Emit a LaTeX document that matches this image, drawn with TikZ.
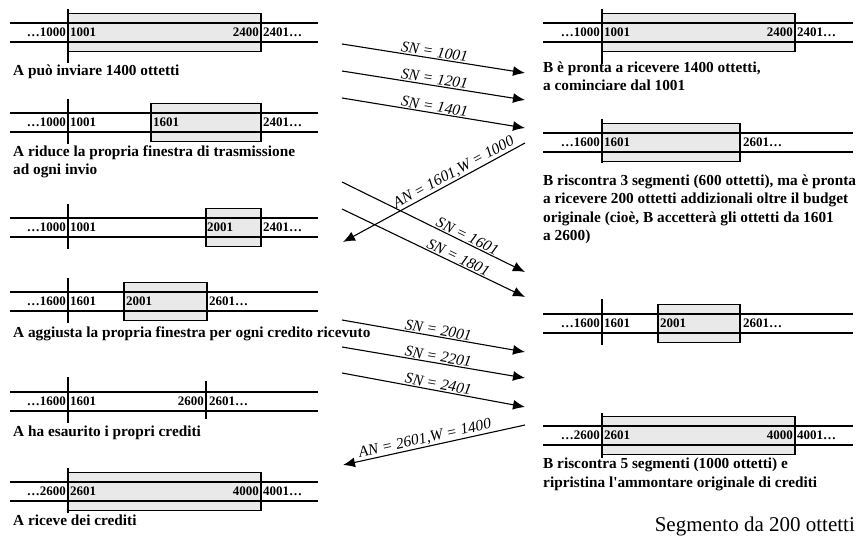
\documentclass[tikz,border=0pt]{standalone}
\usepackage{fontspec}
\setmainfont{Liberation Serif}
\usetikzlibrary{arrows.meta,positioning}
\tikzset{%
	seq/.style  = {line width=2.6pt},
	bar/.style  = {line width=2.6pt},
	cut/.style  = {line width=1.2pt},
	win/.style  = {draw, fill=gray!17, line width=1.3pt},
	num/.style  = {inner sep=0pt, font=\bfseries\fontsize{13}{13}\selectfont},
	note/.style = {inner sep=0pt, anchor=base west, align=left, font=\bfseries\fontsize{15.3}{18.5}\selectfont},
	msg/.style  = {line width=1.1pt, -{Latex[length=12pt,width=10pt]}},
	ack/.style  = {line width=1.1pt, {Latex[length=12pt,width=10pt]}-},
	lbl/.style  = {sloped, above, inner sep=1pt, font=\itshape\fontsize{15.5}{15.5}\selectfont},
}
\begin{document}
\begin{tikzpicture}[x=1pt,y=-1pt]
	\useasboundingbox (0,0) rectangle (859,537);
	
	% lato A
	\begin{scope}[shift={(0,23)}]
	\draw[win] (68,-9.5) rectangle (261,28.5);
	\draw[seq] (10,0) -- (318,0) (10,19) -- (318,19);
	\draw[bar] (68,-14) -- (68,40);
	\node[num, anchor=east] (a1p) at (66,9.5) {…1000};
	\node[num, anchor=west] (a1f) at (70,9.5) {1001};
	\node[num, anchor=east] (a1l) at (259,9.5) {2400};
	\node[num, anchor=west] (a1n) at (263,9.5) {2401…};
	\end{scope}
	\node[note] (a1t) at (13,76) {A può inviare 1400 ottetti};
	
	\begin{scope}[shift={(0,113)}]
	\draw[win] (151,-9.5) rectangle (261,28.5);
	\draw[seq] (10,0) -- (318,0) (10,19) -- (318,19);
	\draw[bar] (68,-14) -- (68,31);
	\node[num, anchor=east] (a2p) at (66,9.5) {…1000};
	\node[num, anchor=west] (a2f) at (70,9.5) {1001};
	\node[num, anchor=west] (a2w) at (153,9.5) {1601};
	\node[num, anchor=west] (a2n) at (263,9.5) {2401…};
	\end{scope}
	% base = ultima riga
	\node[note] (a2t) at (13,175) {A riduce la propria finestra di trasmissione\\ad ogni invio};
	
	\begin{scope}[shift={(0,218)}]
	\draw[win] (206,-9.5) rectangle (261,28.5);
	\draw[seq] (10,0) -- (318,0) (10,19) -- (318,19);
	\draw[bar] (68,-14) -- (68,31);
	\node[num, anchor=east] (a3p) at (66,9.5) {…1000};
	\node[num, anchor=west] (a3f) at (70,9.5) {1001};
	\node[num, anchor=west] (a3w) at (207,9.5) {2001};
	\node[num, anchor=west] (a3n) at (263,9.5) {2401…};
	\end{scope}
	
	\begin{scope}[shift={(0,292)}]
	\draw[win] (124,-9.5) rectangle (207,28.5);
	\draw[seq] (10,0) -- (318,0) (10,19) -- (318,19);
	\draw[bar] (68,-14) -- (68,31);
	\node[num, anchor=east] (a4p) at (66,9.5) {…1600};
	\node[num, anchor=west] (a4f) at (70,9.5) {1601};
	\node[num, anchor=west] (a4w) at (126,9.5) {2001};
	\node[num, anchor=west] (a4n) at (209,9.5) {2601…};
	\end{scope}
	\node[note] (a4t) at (13,337) {A aggiusta la propria finestra per ogni credito ricevuto};
	
	\begin{scope}[shift={(0,392)}]
	\draw[seq] (10,0) -- (318,0) (10,19) -- (318,19);
	\draw[bar] (68,-15) -- (68,31);
	\draw[cut] (206,-11) -- (206,27);
	\node[num, anchor=east] (a5p) at (66,9.5) {…1600};
	\node[num, anchor=west] (a5f) at (70,9.5) {1601};
	\node[num, anchor=east] (a5l) at (204,9.5) {2600};
	\node[num, anchor=west] (a5n) at (209,9.5) {2601…};
	\end{scope}
	\node[note] (a5t) at (13,436) {A ha esaurito i propri crediti};
	
	\begin{scope}[shift={(0,482)}]
	\draw[win] (68,-9.5) rectangle (261,28.5);
	\draw[seq] (10,0) -- (318,0) (10,19) -- (318,19);
	\draw[bar] (68,-14) -- (68,31);
	\node[num, anchor=east] (a6p) at (66,9.5) {…2600};
	\node[num, anchor=west] (a6f) at (70,9.5) {2601};
	\node[num, anchor=east] (a6l) at (259,9.5) {4000};
	\node[num, anchor=west] (a6n) at (263,9.5) {4001…};
	\end{scope}
	\node[note] (a6t) at (13,525) {A riceve dei crediti};
	
	% lato B
	\begin{scope}[shift={(0,23)}]
	\draw[win] (602,-9.5) rectangle (795,28.5);
	\draw[seq] (543,0) -- (853,0) (543,19) -- (853,19);
	\draw[bar] (602,-14) -- (602,41);
	\node[num, anchor=east] (b1p) at (600,9.5) {…1000};
	\node[num, anchor=west] (b1f) at (604,9.5) {1001};
	\node[num, anchor=east] (b1l) at (793,9.5) {2400};
	\node[num, anchor=west] (b1n) at (797,9.5) {2401…};
	\end{scope}
	\node[note] (b1t) at (543,91) {B è pronta a ricevere 1400 ottetti,\\a cominciare dal 1001};
	
	\begin{scope}[shift={(0,133)}]
	\draw[win] (602,-9.5) rectangle (740,28.5);
	\draw[seq] (543,0) -- (853,0) (543,19) -- (853,19);
	\draw[bar] (602,-14) -- (602,30);
	\node[num, anchor=east] (b2p) at (600,9.5) {…1600};
	\node[num, anchor=west] (b2f) at (604,9.5) {1601};
	\node[num, anchor=west] (b2n) at (743,9.5) {2601…};
	\end{scope}
	\node[note] (b2t) at (543,241) {B riscontra 3 segmenti (600 ottetti), ma è pronta\\a ricevere 200 ottetti addizionali oltre il budget\\originale (cioè, B accetterà gli ottetti da 1601\\a 2600)};
	
	\begin{scope}[shift={(0,314)}]
	\draw[win] (658,-9.5) rectangle (740,28.5);
	\draw[seq] (543,0) -- (853,0) (543,19) -- (853,19);
	\draw[bar] (602,-15) -- (602,31);
	\node[num, anchor=east] (b3p) at (600,9.5) {…1600};
	\node[num, anchor=west] (b3f) at (604,9.5) {1601};
	\node[num, anchor=west] (b3w) at (660,9.5) {2001};
	\node[num, anchor=west] (b3n) at (743,9.5) {2601…};
	\end{scope}
	
	\begin{scope}[shift={(0,426)}]
	\draw[win] (602,-9.5) rectangle (795,28.5);
	\draw[seq] (543,0) -- (853,0) (543,19) -- (853,19);
	\draw[bar] (602,-13) -- (602,32);
	\node[num, anchor=east] (b4p) at (600,9.5) {…2600};
	\node[num, anchor=west] (b4f) at (604,9.5) {2601};
	\node[num, anchor=east] (b4l) at (793,9.5) {4000};
	\node[num, anchor=west] (b4n) at (797,9.5) {4001…};
	\end{scope}
	\node[note] (b4t) at (543,487) {B riscontra 5 segmenti (1000 ottetti) e\\ripristina l\textquotesingle ammontare originale di crediti};
	
	\node[inner sep=0pt, anchor=base east, font=\fontsize{21}{21}\selectfont] (seg) at (855,531) {Segmento da 200 ottetti};
	
	% segmenti e riscontri
	\coordinate (s1a) at (342,44);  \coordinate (s1b) at (525,73);
	\coordinate (s2a) at (342,71);  \coordinate (s2b) at (525,100);
	\coordinate (s3a) at (342,98);  \coordinate (s3b) at (525,128);
	\coordinate (r1a) at (343,242); \coordinate (r1b) at (525,143);
	\coordinate (s4a) at (342,182); \coordinate (s4b) at (525,272);
	\coordinate (s5a) at (342,209); \coordinate (s5b) at (525,297);
	\coordinate (s6a) at (342,320); \coordinate (s6b) at (525,352);
	\coordinate (s7a) at (342,347); \coordinate (s7b) at (525,378);
	\coordinate (s8a) at (342,373); \coordinate (s8b) at (525,407);
	\coordinate (r2a) at (343,465); \coordinate (r2b) at (525,425);
	
	\draw[msg] (s1a) -- node[lbl] {SN = 1001} (s1b);
	\draw[msg] (s2a) -- node[lbl] {SN = 1201} (s2b);
	\draw[msg] (s3a) -- node[lbl] {SN = 1401} (s3b);
	\draw[ack] (r1a) -- node[lbl, pos=0.63] {AN = 1601,W = 1000} (r1b);
	\draw[msg] (s4a) -- node[lbl, pos=0.67] {SN = 1601} (s4b);
	\draw[msg] (s5a) -- node[lbl, pos=0.62] {SN = 1801} (s5b);
	\draw[msg] (s6a) -- node[lbl, pos=0.52] {SN = 2001} (s6b);
	\draw[msg] (s7a) -- node[lbl, pos=0.52] {SN = 2201} (s7b);
	\draw[msg] (s8a) -- node[lbl, pos=0.52] {SN = 2401} (s8b);
	\draw[ack] (r2a) -- node[lbl, pos=0.46] {AN = 2601,W = 1400} (r2b);
\end{tikzpicture}
\end{document}
